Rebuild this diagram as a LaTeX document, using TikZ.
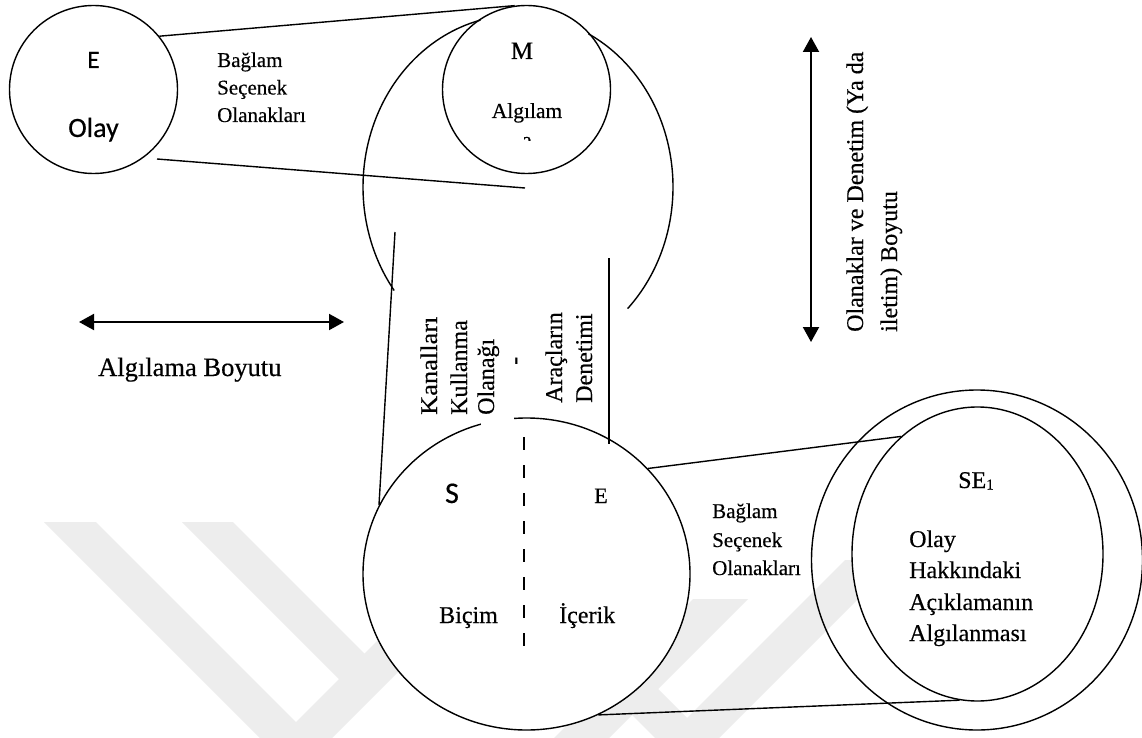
\documentclass[tikz,border=0pt]{standalone}
\usepackage{fontspec}
\setmainfont{Liberation Serif}[FakeBold=0.4]
\newfontfamily\calib{Carlito}[FakeBold=0.4]
\usetikzlibrary{shapes.geometric,arrows.meta}
\definecolor{wm}{gray}{0.93}
\begin{document}
\begin{tikzpicture}[x=1pt,y=-1pt,
  ln/.style={line width=1.4pt,black},
  circ/.style={circle,draw,fill=white,line width=1.4pt,inner sep=0pt,minimum size=#1},
  ell/.style={ellipse,draw,line width=1.4pt,inner sep=0pt},
  dbl/.style={line width=2pt,{Triangle[width=16pt,length=15pt]}-{Triangle[width=16pt,length=15pt]}},
  tx/.style={inner sep=0pt,anchor=base west,font=\fontsize{#1}{#1}\selectfont},
  vt/.style={inner sep=0pt,anchor=base west,rotate=90,font=\fontsize{#1}{#1}\selectfont},
  lbl/.style={inner sep=0pt,anchor=base,font=\fontsize{#1}{#1}\selectfont},
  wmark/.style={fill=wm,draw=none}]
\useasboundingbox[fill=white] (0,0) rectangle (1142,738);

% faint watermark
\fill[wmark] (44,522) -- (96,522) -- (312,738) -- (260,738) -- cycle;
\fill[wmark] (182,522) -- (233,522) -- (378,667) -- (352.5,692.5) -- cycle;
\fill[wmark] (280,738) -- (332,738) -- (470,600) -- (470,548) -- cycle;
\fill[wmark] (693,599) -- (748,599) -- (609,738) -- (554,738) -- cycle;
\fill[wmark] (655,738) -- (707,738) -- (590,621) -- (590,673) -- cycle;
\fill[wmark] (667,738) -- (719,738) -- (897,560) -- (845,560) -- cycle;

% circles
\node[circ=168pt] (Ec) at (93.5,89.5) {};
\node[circ=168pt] (Mc) at (526.5,89.5) {};
\node[ell,fill=white,minimum width=327pt,minimum height=312pt] (Sc) at (526.5,574) {};
\node[ell,minimum width=331pt,minimum height=340pt] (SEo) at (977,560) {};
\node[ell,fill=white,minimum width=251pt,minimum height=294pt] (SEi) at (977.5,554) {};

% big ellipse around M
\draw[ln] plot[domain=256:143,samples=80,smooth] ({518+155*cos(\x)},{187+172*sin(\x)});
\draw[ln] plot[domain=45:-63,samples=80,smooth] ({518+155*cos(\x)},{187+172*sin(\x)});

% gap in S circle top
\fill[white] (481,411) rectangle (514,432);

% coordinates
\coordinate (l2a) at (157,159);
\coordinate (l2b) at (525,188);
\coordinate (vl) at (395,232);
\coordinate (vr) at (609,258);
\coordinate (vrb) at (609,444);
\coordinate (dsa) at (524,437);
\coordinate (dsb) at (524,647);
\coordinate (ha) at (79,322);
\coordinate (hb) at (344,322);
\coordinate (va) at (811,37);
\coordinate (vb) at (811,342);

% connectors
\draw[ln] (Ec.39) -- (Mc.98);
\draw[ln] (l2a) -- (l2b);
\draw[ln] (vl) -- (Sc.155);
\draw[ln] (vr) -- (vrb);
\draw[ln] (Sc.41.6) -- (SEi.123.5);
\draw[ln] (Sc.-63.6) -- (SEi.263);
\draw[line width=1.4pt,dash pattern=on 13pt off 15pt] (dsa) -- (dsb);
\draw[dbl] (ha) -- (hb);
\draw[dbl] (va) -- (vb);

% texts
\node[lbl=25,font=\calib\fontsize{25}{25}\selectfont] (tE) at (93.5,68) {E};
\node[lbl=28,font=\calib\fontsize{28}{28}\selectfont] (tOlay) at (93.5,137) {Olay};
\node[tx=21] (b1a) at (217,67) {Bağlam};
\node[tx=21] (b1b) at (217,94.5) {Seçenek};
\node[tx=21] (b1c) at (217,122) {Olanakları};
\node[lbl=25] (tM) at (522,59) {M};
\node[lbl=21.5] (tAlg) at (527,118) {Algılam};
\begin{scope}
\clip (490,130) rectangle (560,141);
\node[lbl=21.5] (tA2) at (527,147) {a};
\end{scope}
\node[tx=26.5] (tAB) at (98,376) {Algılama Boyutu};
\node[vt=24] (o1) at (863,332) {Olanaklar ve Denetim (Ya da};
\node[vt=24] (o2) at (897,332) {iletim) Boyutu};
\node[vt=24] (k1) at (437,415) {\scalebox{1.1}[1]{Kanalları}};
\node[vt=24] (k2) at (467,415) {Kullanma};
\node[vt=24] (k3) at (494,415) {Olanağı};
\node[vt=24] (k4) at (522,365) {-};
\node[vt=24] (k5) at (562,403) {Araçların};
\node[vt=24] (k6) at (592,403) {Denetimi};
\node[lbl=30,font=\calib\fontsize{30}{30}\selectfont] (tS) at (452,503) {S};
\node[lbl=22] (tE2) at (601,503) {E};
\node[tx=24] (tBic) at (439,623) {Biçim};
\node[tx=24] (tIce) at (559,623) {İçerik};
\node[tx=21] (b2a) at (712,518) {Bağlam};
\node[tx=21] (b2b) at (712,547) {Seçenek};
\node[tx=21] (b2c) at (712,575) {Olanakları};
\node[tx=24] (tSE) at (958,488) {SE\raisebox{-1.5pt}{\fontsize{15}{15}\selectfont 1}};
\node[tx=24] (s1) at (909,547) {Olay};
\node[tx=24] (s2) at (909,578) {Hakkındaki};
\node[tx=24] (s3) at (909,610) {Açıklamanın};
\node[tx=24] (s4) at (909,641) {Algılanması};
\end{tikzpicture}
\end{document}
